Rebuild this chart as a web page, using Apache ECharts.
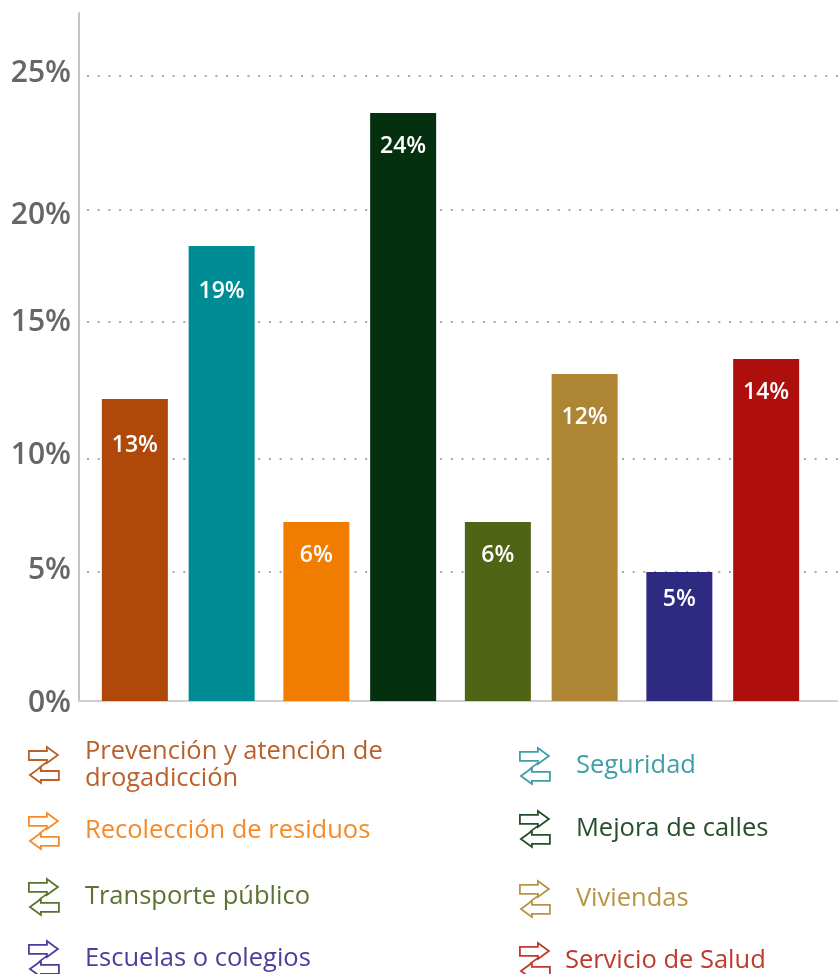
<!DOCTYPE html>
<html>
<head>
<meta charset="utf-8">
<style>html,body{margin:0;padding:0;background:#fff}#c{width:838px;height:974px;filter:blur(0.6px)}</style>
<script src="https://cdn.jsdelivr.net/npm/echarts@6/dist/echarts.min.js"></script>
</head>
<body>
<div id="c"></div>
<script>
// Data
const groups = ['a', 'b', 'c', 'd'];
const names = ['Prevención y atención de drogadicción', 'Seguridad', 'Recolección de residuos', 'Mejora de calles',
               'Transporte público', 'Viviendas', 'Escuelas o colegios', 'Servicio de Salud'];
const barHeights = [12.07, 18.19, 7.15, 23.5, 7.15, 13.07, 5.16, 13.67];
const printedLabels = ['13%', '19%', '6%', '24%', '6%', '12%', '5%', '14%'];
const tickLabels = ['0%', '5%', '10%', '15%', '20%', '25%'];
const tickValues = [0, 5.16, 9.67, 15.15, 19.65, 25];

// Styles and placement
const labelValues = [0, 5.22, 9.8, 15.12, 19.4, 25.08];
const barColors = ['#B0480A', '#008C95', '#F07D00', '#04300F', '#4F6415', '#AE8534', '#2E2A82', '#AF0F0C'];
const textColors = ['#B9602B', '#3F9EA8', '#F58A2A', '#254F2B', '#5B7230', '#B99445', '#4A3F9C', '#BE3A2D'];
const labelDrop = [46, 46, 33, 33, 33, 43, 28, 33];
const legendSpots = [
  {left: 28, top: 738, gap: 26}, {left: 519, top: 747, gap: 26},
  {left: 28, top: 812, gap: 26}, {left: 519, top: 810, gap: 26},
  {left: 28, top: 878, gap: 26}, {left: 519, top: 880, gap: 26},
  {left: 28, top: 940, gap: 26}, {left: 519, top: 942, gap: 15}
];
const arrowIcon = 'path://M0 4L18 4L18 0L29 8L18 16L18 13L0 13ZM18 15L10 21M30 24L12 24L12 20L1 28L12 36L12 33L30 33Z';
const font = '"Open Sans", sans-serif';

const chart = echarts.init(document.getElementById('c'), null, {renderer: 'canvas'});
const maxV = 27.5;

chart.setOption({
  animation: false,
  backgroundColor: '#fff',
  grid: [
    {left: 79, right: 0, top: 13, bottom: 273},
    {left: 87.5, width: 726, top: 13, bottom: 273}
  ],
  xAxis: [
    {type: 'category', gridIndex: 0, data: [''], axisTick: {show: false}, axisLabel: {show: false},
     axisLine: {lineStyle: {color: '#CFCFCF', width: 2}}},
    {type: 'category', gridIndex: 1, data: groups, show: false}
  ],
  yAxis: [
    {type: 'value', gridIndex: 0, min: 0, max: maxV,
     axisLine: {show: true, lineStyle: {color: '#C4C4C4', width: 2}},
     axisTick: {show: false, customValues: tickValues},
     axisLabel: {show: true, customValues: labelValues, margin: 8, color: '#666', fontSize: 30,
       fontWeight: 600, fontFamily: font,
       rich: {low: {color: '#666', fontSize: 30, fontWeight: 600, fontFamily: font, padding: [4, 0, 0, 0]}},
       formatter: (v) => v === 0 ? '{low|' + tickLabels[0] + '}' : tickLabels[labelValues.indexOf(v)]},
     splitLine: {show: true, lineStyle: {color: '#A8A8A8', width: 2, type: [2, 8.7], dashOffset: -8}}},
    {type: 'value', gridIndex: 1, min: 0, max: maxV, show: false}
  ],
  legend: names.map((n, i) => ({
    data: [n], left: legendSpots[i].left, top: legendSpots[i].top, padding: 0,
    orient: 'vertical', selectedMode: false,
    itemWidth: 30, itemHeight: 37, icon: arrowIcon,
    itemStyle: {color: 'transparent', borderColor: textColors[i], borderWidth: 1.8},
    formatter: t => t === names[0] ? 'Prevención y atención de\ndrogadicción' : t,
    textStyle: {color: textColors[i], fontSize: 25.5, fontFamily: font, lineHeight: 27,
                padding: [0, 0, 0, legendSpots[i].gap - 5]}
  })),
  series: names.map((n, i) => ({
    name: n, type: 'bar', xAxisIndex: 1, yAxisIndex: 1,
    stack: i % 2 ? 'right' : 'left',
    barWidth: 66, barGap: '31.5%',
    itemStyle: {color: barColors[i]},
    data: groups.map((g, k) => k === Math.floor(i / 2) ? barHeights[i] : null),
    label: {show: true, position: ['50%', labelDrop[i]], align: 'center', verticalAlign: 'middle',
      color: '#fff', fontSize: 23, fontWeight: 600, fontFamily: font,
      formatter: () => printedLabels[i]}
  }))
});
</script>
</body>
</html>
